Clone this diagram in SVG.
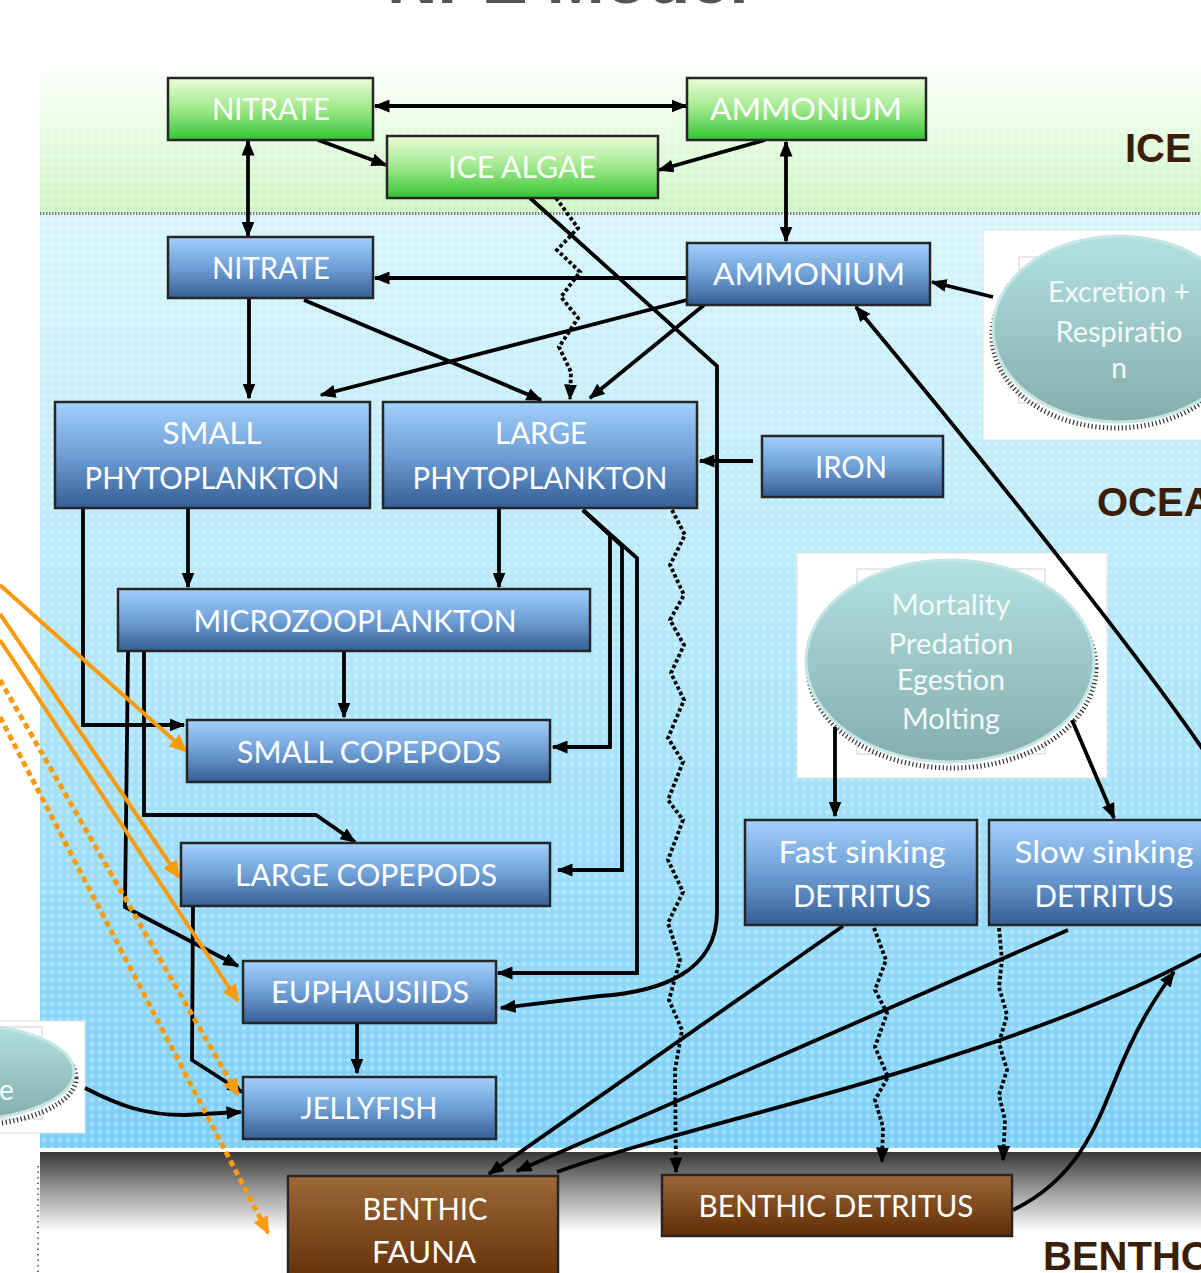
<svg xmlns="http://www.w3.org/2000/svg" width="1201" height="1273" viewBox="0 0 1201 1273">
<defs>
<style>
.box{stroke:#262626;stroke-width:2.5}
.b{fill:url(#gBlue)}
.g{fill:url(#gGreen)}
.br{fill:url(#gBrown)}
.t{font-family:Lato,"Open Sans","Noto Sans",sans-serif;font-size:30px;fill:#ffffff;text-anchor:middle}
.et{font-family:Lato,"Open Sans","Noto Sans",sans-serif;font-size:28px;fill:#f2fafa;text-anchor:middle}
.sec{font-family:"Liberation Sans",Arial,sans-serif;font-weight:bold;font-size:40px;fill:#3a1e08}
.c{fill:none;stroke:#000;stroke-width:3.8;stroke-linejoin:miter}
.a{marker-end:url(#ah)}
.d{stroke-dasharray:3.5 2.5}
.o{fill:none;stroke:#f99b0c;stroke-width:4}
.od{stroke-dasharray:6 4;stroke-width:5}
.ao{marker-end:url(#aho)}
.frame{fill:#fff;stroke:#e2e2e2;stroke-width:1}
.inner{fill:none;stroke:#cfcfcf;stroke-width:1}
.ell{fill:url(#gEll);stroke:#c6e6e6;stroke-width:3}
.shadow{fill:none;stroke:#333;stroke-width:5;stroke-dasharray:1.2 2.6}
</style>
<linearGradient id="gBlue" x1="0" y1="0" x2="0" y2="1"><stop offset="0" stop-color="#a2d1fc"/><stop offset="0.5" stop-color="#6f9fd6"/><stop offset="1" stop-color="#345e95"/></linearGradient>
<linearGradient id="gGreen" x1="0" y1="0" x2="0" y2="1"><stop offset="0" stop-color="#ebfdda"/><stop offset="0.5" stop-color="#9fe88b"/><stop offset="1" stop-color="#34c434"/></linearGradient>
<linearGradient id="gBrown" x1="0" y1="0" x2="0" y2="1"><stop offset="0" stop-color="#9d6837"/><stop offset="1" stop-color="#602d06"/></linearGradient>
<linearGradient id="gEll" x1="0" y1="0" x2="0" y2="1"><stop offset="0" stop-color="#b3e1e1"/><stop offset="1" stop-color="#85adad"/></linearGradient>
<linearGradient id="gIce" x1="0" y1="0" x2="0" y2="1"><stop offset="0" stop-color="#fbfffa"/><stop offset="1" stop-color="#cdf6c2"/></linearGradient>
<linearGradient id="gOcean" x1="0" y1="0" x2="0" y2="1"><stop offset="0" stop-color="#d8f5fc"/><stop offset="0.5" stop-color="#b0e6fb"/><stop offset="1" stop-color="#7ccff7"/></linearGradient>
<linearGradient id="gBenth" x1="0" y1="0" x2="0" y2="1"><stop offset="0" stop-color="#383838"/><stop offset="0.32" stop-color="#9a9a9a"/><stop offset="0.66" stop-color="#ffffff"/><stop offset="1" stop-color="#ffffff"/></linearGradient>
<pattern id="pDia" width="8" height="8" patternUnits="userSpaceOnUse"><path d="M4,1 L7,4 L4,7 L1,4 z" fill="#ffffff" fill-opacity="0.28"/></pattern>
<marker id="ah" viewBox="0 0 16 13" refX="14.5" refY="6.5" markerWidth="16" markerHeight="13" markerUnits="userSpaceOnUse" orient="auto-start-reverse"><path d="M0,0 L16,6.5 L0,13 z" fill="#000"/></marker>
<marker id="aho" viewBox="0 0 18 16" refX="16" refY="8" markerWidth="18" markerHeight="16" markerUnits="userSpaceOnUse" orient="auto"><path d="M0,0 L18,8 L0,16 z" fill="#f99b0c"/></marker>
</defs>

<!-- backgrounds -->
<g id="background">
<rect x="0" y="0" width="1201" height="1273" fill="#ffffff"/>
<rect x="40" y="70" width="1161" height="143" fill="url(#gIce)"/>
<rect x="40" y="70" width="1161" height="143" fill="url(#pDia)"/>
<rect x="40" y="215" width="1161" height="933" fill="url(#gOcean)"/>
<rect x="40" y="215" width="1161" height="933" fill="url(#pDia)"/>
<line x1="40" y1="213.5" x2="1201" y2="213.5" stroke="#7a7a7a" stroke-width="3" stroke-dasharray="1.5 1.5"/>
<rect x="40" y="1152" width="1161" height="121" fill="url(#gBenth)"/>
<line x1="38" y1="1166" x2="38" y2="1273" stroke="#444" stroke-width="1.5" stroke-dasharray="1.5 4"/>
<text x="387" y="3" font-family="Liberation Sans, Arial, sans-serif" font-weight="bold" font-size="70" fill="#555">NPZ Model</text>
<text class="sec" x="1125" y="162">ICE</text>
<text class="sec" x="1097" y="516">OCEAN</text>
<text class="sec" x="1043" y="1270">BENTHOS</text>
</g>

<!-- process ellipses -->
<g id="excretion">
<rect class="frame" x="983" y="230" width="240" height="210"/>
<rect class="inner" x="1019" y="257" width="200" height="146"/>
<ellipse class="shadow" cx="1116" cy="336" rx="124" ry="92"/>
<ellipse class="ell" cx="1119" cy="329" rx="126" ry="93"/>
<text class="et" x="1119" y="302" textLength="142" lengthAdjust="spacingAndGlyphs">Excretion +</text>
<text class="et" x="1119" y="342" textLength="127" lengthAdjust="spacingAndGlyphs">Respiratio</text>
<text class="et" x="1119" y="378">n</text>
</g>
<g id="mortality">
<rect class="frame" x="797" y="553" width="310" height="225"/>
<rect class="inner" x="857" y="569" width="188" height="185"/>
<ellipse class="shadow" cx="952" cy="668" rx="144" ry="100"/>
<ellipse class="ell" cx="950" cy="661" rx="144" ry="101"/>
<text class="et" x="951" y="615" textLength="119" lengthAdjust="spacingAndGlyphs">Mortality</text>
<text class="et" x="951" y="654" textLength="125" lengthAdjust="spacingAndGlyphs">Predation</text>
<text class="et" x="951" y="690" textLength="108" lengthAdjust="spacingAndGlyphs">Egestion</text>
<text class="et" x="951" y="729" textLength="98" lengthAdjust="spacingAndGlyphs">Molting</text>
</g>
<g id="left-process">
<rect class="frame" x="-10" y="1021" width="95" height="112"/>
<rect class="inner" x="-10" y="1027" width="52" height="92"/>
<ellipse class="shadow" cx="-38" cy="1078" rx="114" ry="48"/>
<ellipse class="ell" cx="-40" cy="1072" rx="114" ry="48"/>
<text class="et" x="-1" y="1100" style="text-anchor:start">e</text>
</g>

<!-- connectors -->
<g id="connectors">
<path class="c a" style="marker-start:url(#ah)" d="M375,106 L686,106"/>
<path class="c a" d="M318,140 L386,165"/>
<path class="c a" d="M765,140 L659,170"/>
<path class="c a" style="marker-start:url(#ah)" d="M248,141 L248,236"/>
<path class="c a" style="marker-start:url(#ah)" d="M786,142 L786,241"/>
<path class="c d a" d="M556,198 L578,228 L557,250 L580,272 L561,297 L578,318 L559,347 L571,372 L570,399"/>
<path class="c a" d="M530,198 L717,366 L717,912 C717,972 660,992 600,996 L501,1008"/>
<path class="c a" d="M686,278 L375,278"/>
<path class="c a" d="M687,300 L321,395"/>
<path class="c a" d="M704,305 L590,398"/>
<path class="c a" d="M249,299 L249,398"/>
<path class="c a" d="M304,300 L541,400"/>
<path class="c a" d="M753,461 L700,461"/>
<path class="c a" d="M993,297 L932,282"/>
<path class="c a" d="M1210,760 C1150,670 1000,480 856,307"/>
<path class="c a" d="M1013,1210 C1075,1180 1095,1130 1115,1080 C1135,1030 1152,1002 1174,972"/>
<path class="c a" d="M843,926 L489,1174"/>
<path class="c a" d="M1068,930 L517,1171"/>
<path class="c" d="M557,1172 C700,1120 1000,1065 1210,950"/>
<path class="c d a" d="M672,510 L685,535 L670,565 L684,595 L670,620 L684,645 L671,673 L684,700 L668,738 L683,762 L668,800 L683,820 L668,860 L683,892 L668,923 L680,960 L669,1000 L682,1030 L675,1070 L676,1172"/>
<path class="c d a" d="M874,928 L886,960 L875,990 L887,1013 L875,1047 L888,1077 L875,1100 L883,1127 L882,1162"/>
<path class="c d a" d="M999,928 L1002,960 L999,987 L1007,1015 L999,1043 L1007,1070 L999,1095 L1005,1120 L1003,1160"/>
<path class="c a" d="M188,509 L188,587"/>
<path class="c a" d="M499,509 L499,587"/>
<path class="c a" d="M83,509 L83,725 L184,725"/>
<path class="c a" d="M344,652 L344,717"/>
<path class="c a" d="M144,652 L144,815 L316,815 L355,842"/>
<path class="c a" d="M128,652 L125,907 L238,966"/>
<path class="c a" d="M193,907 L192,1060 L242,1092"/>
<path class="c a" d="M357,1024 L357,1073"/>
<path class="c a" d="M85,1088 C120,1106 145,1115 185,1115 L241,1112"/>
<path class="c a" d="M583,510 L610,535 L610,747 L553,747"/>
<path class="c a" d="M583,510 L622,546 L622,870 L558,870"/>
<path class="c a" d="M583,510 L637,558 L637,973 L498,973"/>
<path class="c a" d="M835,727 L835,816"/>
<path class="c a" d="M1072,720 L1114,818"/>
<path class="o ao" d="M0,585 L186,751"/>
<path class="o ao" d="M0,614 L179,877"/>
<path class="o ao" d="M0,640 L238,1001"/>
<path class="o od ao" d="M0,680 L238,1095"/>
<path class="o od ao" d="M0,717 L268,1233"/>
</g>

<!-- nodes -->
<g id="ice-nitrate"><rect class="box g" x="168" y="78" width="205" height="62"/><text class="t" x="271" y="120" textLength="118" lengthAdjust="spacingAndGlyphs">NITRATE</text></g>
<g id="ice-ammonium"><rect class="box g" x="687" y="78" width="239" height="62"/><text class="t" x="806" y="120" textLength="192" lengthAdjust="spacingAndGlyphs">AMMONIUM</text></g>
<g id="ice-algae"><rect class="box g" x="387" y="136" width="271" height="62"/><text class="t" x="522" y="178" textLength="148" lengthAdjust="spacingAndGlyphs">ICE ALGAE</text></g>
<g id="nitrate"><rect class="box b" x="168" y="237" width="205" height="61"/><text class="t" x="271" y="279" textLength="118" lengthAdjust="spacingAndGlyphs">NITRATE</text></g>
<g id="ammonium"><rect class="box b" x="687" y="243" width="243" height="62"/><text class="t" x="809" y="285" textLength="192" lengthAdjust="spacingAndGlyphs">AMMONIUM</text></g>
<g id="small-phytoplankton"><rect class="box b" x="55" y="402" width="315" height="106"/><text class="t" x="212" y="444" textLength="99" lengthAdjust="spacingAndGlyphs">SMALL</text><text class="t" x="212" y="489" textLength="255" lengthAdjust="spacingAndGlyphs">PHYTOPLANKTON</text></g>
<g id="large-phytoplankton"><rect class="box b" x="383" y="402" width="314" height="106"/><text class="t" x="541" y="444" textLength="92" lengthAdjust="spacingAndGlyphs">LARGE</text><text class="t" x="540" y="489" textLength="255" lengthAdjust="spacingAndGlyphs">PHYTOPLANKTON</text></g>
<g id="iron"><rect class="box b" x="762" y="436" width="181" height="61"/><text class="t" x="851" y="478" textLength="72" lengthAdjust="spacingAndGlyphs">IRON</text></g>
<g id="microzooplankton"><rect class="box b" x="118" y="589" width="472" height="62"/><text class="t" x="355" y="632" textLength="323" lengthAdjust="spacingAndGlyphs">MICROZOOPLANKTON</text></g>
<g id="small-copepods"><rect class="box b" x="187" y="720" width="363" height="62"/><text class="t" x="369" y="763" textLength="264" lengthAdjust="spacingAndGlyphs">SMALL COPEPODS</text></g>
<g id="large-copepods"><rect class="box b" x="181" y="843" width="369" height="63"/><text class="t" x="366" y="886" textLength="262" lengthAdjust="spacingAndGlyphs">LARGE COPEPODS</text></g>
<g id="euphausiids"><rect class="box b" x="243" y="961" width="253" height="62"/><text class="t" x="370" y="1003" textLength="198" lengthAdjust="spacingAndGlyphs">EUPHAUSIIDS</text></g>
<g id="jellyfish"><rect class="box b" x="243" y="1077" width="253" height="62"/><text class="t" x="369" y="1119" textLength="137" lengthAdjust="spacingAndGlyphs">JELLYFISH</text></g>
<g id="fast-detritus"><rect class="box b" x="745" y="820" width="232" height="105"/><text class="t" x="862" y="863" textLength="167" lengthAdjust="spacingAndGlyphs">Fast sinking</text><text class="t" x="862" y="907" textLength="138" lengthAdjust="spacingAndGlyphs">DETRITUS</text></g>
<g id="slow-detritus"><rect class="box b" x="989" y="820" width="232" height="105"/><text class="t" x="1104" y="863" textLength="179" lengthAdjust="spacingAndGlyphs">Slow sinking</text><text class="t" x="1104" y="907" textLength="139" lengthAdjust="spacingAndGlyphs">DETRITUS</text></g>
<g id="benthic-fauna"><rect class="box br" x="288" y="1176" width="270" height="110"/><text class="t" x="425" y="1220" textLength="125" lengthAdjust="spacingAndGlyphs">BENTHIC</text><text class="t" x="424" y="1263" textLength="104" lengthAdjust="spacingAndGlyphs">FAUNA</text></g>
<g id="benthic-detritus"><rect class="box br" x="662" y="1175" width="350" height="61"/><text class="t" x="836" y="1217" textLength="275" lengthAdjust="spacingAndGlyphs">BENTHIC DETRITUS</text></g>
</svg>
